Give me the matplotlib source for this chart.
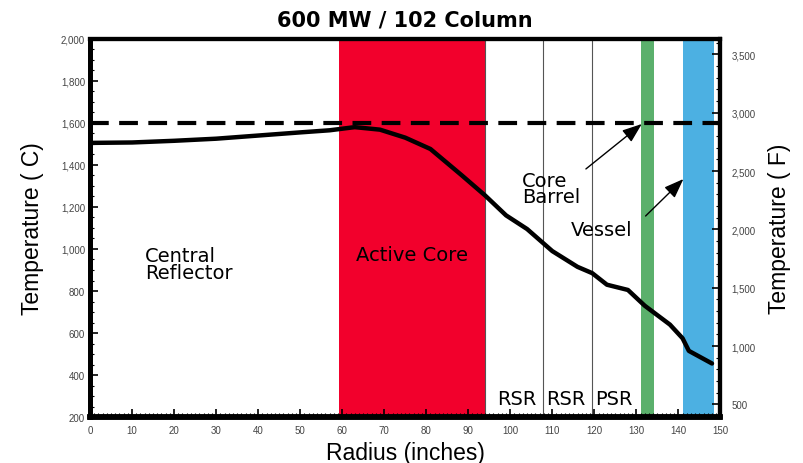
import numpy as np
import matplotlib.pyplot as plt
from matplotlib.ticker import MultipleLocator, FuncFormatter

plt.rcParams["font.family"] = ["Liberation Sans", "DejaVu Sans"]

# Temperature profile along the radius.
RADIUS = [0, 10, 20, 30, 40, 50, 57, 63, 69, 75, 81, 88.5, 94, 99, 104,
          110, 116, 119.5, 123, 128, 132, 138, 141, 142.5, 148]
TEMP_C = [1505, 1507, 1515, 1525, 1540, 1555, 1565, 1580, 1568, 1530, 1476,
          1350, 1255, 1160, 1095, 990, 915, 885, 830, 805, 730, 640, 575,
          515, 455]
LIMIT_C = 1600

# Radial zones (inches).
ACTIVE_CORE = (59.2, 94.0)
ZONE_LINES = [107.8, 119.4]
CORE_BARREL = (131.0, 134.1)
VESSEL = (141.2, 148.4)

ZONE_LABELS = ["RSR", "RSR", "PSR"]
ZONE_LABEL_X = [101.6, 113.3, 124.6]

C_MIN, C_MAX = 200, 2000
R_MIN, R_MAX = 0, 150

LABEL_FONT = "DejaVu Sans"


def c_to_f(c):
  return c * 9.0 / 5.0 + 32.0


fig = plt.figure(figsize=(8.04, 4.64), dpi=100)
ax = fig.add_axes([0.112, 0.099, 0.784, 0.815])

ax.axvspan(*ACTIVE_CORE, color="#f2002c", lw=0, zorder=0)
ax.axvspan(*CORE_BARREL, color="#5bb06c", lw=0, zorder=0)
ax.axvspan(*VESSEL, color="#4cb0e2", lw=0, zorder=0)
ax.axvline(ACTIVE_CORE[1], color="#555555", lw=0.8, zorder=1)
for x in ZONE_LINES:
  ax.axvline(x, color="#555555", lw=0.8, zorder=1)

ax.axhline(LIMIT_C, color="black", lw=3, dashes=(4.5, 2.5), zorder=3)
ax.plot(RADIUS, TEMP_C, color="black", lw=3.2, zorder=4,
        solid_joinstyle="round", solid_capstyle="round")

ax.set_xlim(R_MIN, R_MAX)
ax.set_ylim(C_MIN, C_MAX)

# Labels inside the plot.
ax.text(13, 930, "Central\nReflector", fontsize=14, family=LABEL_FONT,
        va="center", ha="left", linespacing=0.85)
ax.text(76.7, 976, "Active Core", fontsize=14, family=LABEL_FONT,
        va="center", ha="center")
for x, lab in zip(ZONE_LABEL_X, ZONE_LABELS):
  ax.text(x, 290, lab, fontsize=14, family=LABEL_FONT,
          va="center", ha="center")
ax.text(102.8, 1290, "Core\nBarrel", fontsize=14, family=LABEL_FONT,
        va="center", ha="left", linespacing=0.8)
ax.text(114.4, 1095, "Vessel", fontsize=14, family=LABEL_FONT,
        va="center", ha="left")

arrow = dict(arrowstyle="-|>,head_length=1.2,head_width=0.45", color="black",
             lw=1.0, shrinkA=0, shrinkB=0)
ax.annotate("", xy=(131.3, 1595), xytext=(118.0, 1381), arrowprops=arrow,
            zorder=5)
ax.annotate("", xy=(141.2, 1333), xytext=(132.2, 1157), arrowprops=arrow,
            zorder=5)

# Axes styling.
thousands = FuncFormatter(lambda v, p: f"{int(v):,}")
ax.xaxis.set_major_locator(MultipleLocator(10))
ax.xaxis.set_minor_locator(MultipleLocator(1))
ax.yaxis.set_major_locator(MultipleLocator(200))
ax.yaxis.set_minor_locator(MultipleLocator(50))
ax.yaxis.set_major_formatter(thousands)
ax.tick_params(axis="both", which="major", direction="in", length=6,
               width=1.2, labelsize=7, labelcolor="#444444")
ax.tick_params(axis="both", which="minor", direction="in", length=3,
               width=0.8)
ax.tick_params(axis="x", pad=6)

ax2 = ax.twinx()
ax2.set_ylim(c_to_f(C_MIN), c_to_f(C_MAX))
ax2.yaxis.set_major_locator(MultipleLocator(500))
ax2.yaxis.set_minor_locator(MultipleLocator(100))
ax2.yaxis.set_major_formatter(thousands)
ax2.tick_params(which="major", direction="in", length=6, width=1.2,
                labelsize=7, labelcolor="#444444", pad=8)
ax2.tick_params(which="minor", direction="in", length=3, width=0.8)
for a in (ax, ax2):
  for side, w in [("left", 3.5), ("bottom", 4), ("top", 3), ("right", 3)]:
    a.spines[side].set_linewidth(w)

ax2.set_ylabel("Temperature ( F)", fontsize=16.5, labelpad=9)
ax.set_xlabel("Radius (inches)", fontsize=16.5, labelpad=4)
ax.set_ylabel("Temperature ( C)", fontsize=16.5, labelpad=12)
ax.set_title("600 MW / 102 Column", fontsize=15, fontweight="bold",
             family=LABEL_FONT, pad=10)

fig.savefig("out.png", dpi=100)
